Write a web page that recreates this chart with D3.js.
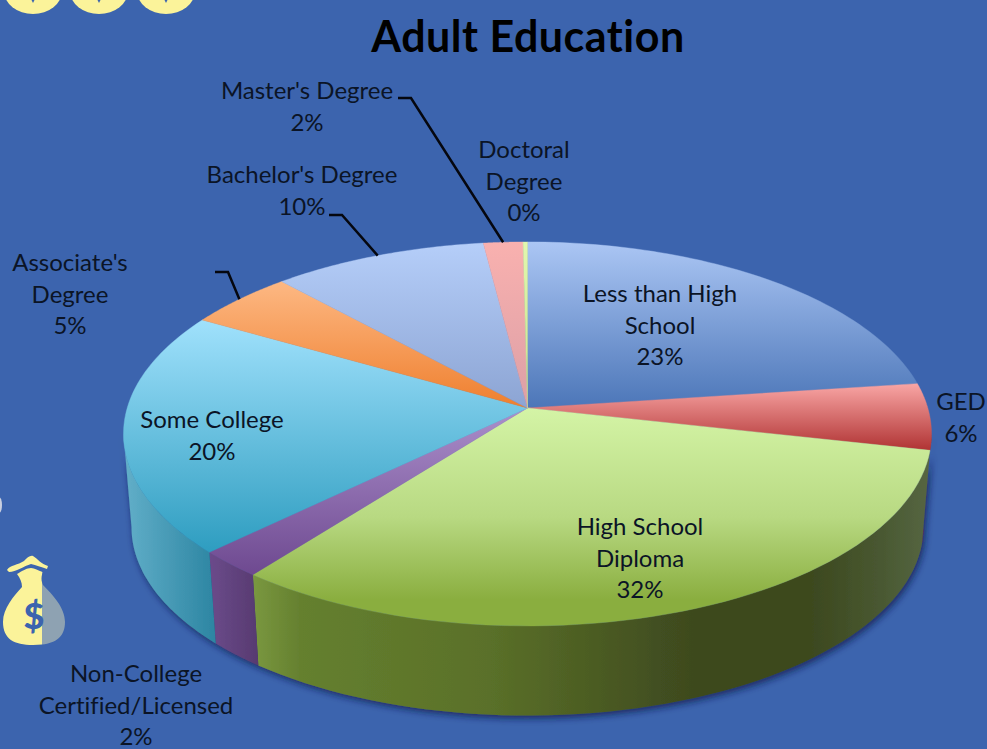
<!DOCTYPE html>
<html><head><meta charset="utf-8">
<script src="https://cdn.jsdelivr.net/npm/d3@7"></script>
<style>
html,body{margin:0;padding:0;background:#3c64ae;overflow:hidden}
text{font-family:Lato,"Open Sans",sans-serif;font-variant-ligatures:none}
</style></head><body>
<svg id="c" width="987" height="749"></svg>
<script>
// ---- data ----
const categories = ["Less than High School","GED","High School Diploma","Non-College Certified/Licensed","Some College","Associate's Degree","Bachelor's Degree","Master's Degree","Doctoral Degree"];
const values = [22.9,5.6,32.0,2.3,20.5,4.9,9.8,1.8,0.2];
const percentLabels = ["23%","6%","32%","2%","20%","5%","10%","2%","0%"];
const labelLines = [["Less than High","School"],["GED"],["High School","Diploma"],["Non-College","Certified/Licensed"],["Some College"],["Associate's","Degree"],["Bachelor's Degree"],["Master's Degree"],["Doctoral","Degree"]];
// ---- style / layout ----
const labelAnchors = [[660,294],[961,402],[640,527],[136,674],[212,420],[70,263],[302,175],[307,91],[524,150]];
const elbows = {5:[[215,272],[228,272]],6:[[329,215],[342,215]],7:[[398,98],[411,98]]};
const topColors = [["#abc6f4","#4c76b8"],["#f9a6a5","#b03333"],["#d4f4a6","#8aae3f"],["#ab8fcb","#6e4990"],["#a0e1fc","#2e9dc0"],["#fdb883","#ef7f2e"],["#b5cef9","#8ca4d3"],["#f9b1af","#dc9fa6"],["#e2f7ae","#c6e48c"]];
const wallStops = {
  1:[[0,"#7a2020"],[1,"#7a2020"]],
  2:[[0,"#7a9840"],[.07,"#65802f"],[.35,"#5a7029"],[.52,"#4a5a22"],[.6,"#424f20"],[.67,"#3c481e"],[.82,"#3c481e"],[.92,"#485730"],[1,"#566642"]],
  3:[[0,"#6b4b8b"],[1,"#573a70"]],
  4:[[0,"#62afc9"],[1,"#2c85a2"]]
};
const cx=527.5, cy=408, A=400.3, B=188.5, K=0.135, depth=94, taper=0.98;

const svg=d3.select("#c");
const defs=svg.append("defs");
const f=defs.append("filter").attr("id","sh").attr("x","-10%").attr("y","-10%").attr("width","120%").attr("height","130%");
f.append("feDropShadow").attr("dx",2).attr("dy",3).attr("stdDeviation",3.5).attr("flood-color","#0c1a48").attr("flood-opacity",.75);

// projection of the tilted disc: angle (clockwise from 12 o'clock) -> screen
function proj(t,s=1,dy=0){
  const ys=-Math.cos(t), w=1-K*ys;
  return [cx+s*A*Math.sin(t)/w, cy+dy+s*B*ys/w];
}
const pie=d3.pie().sort(null).value(d=>d);
const arcs=pie(values);
const line=d3.line();
const samples=(a,b)=>d3.range(0,61).map(i=>a+(b-a)*i/60);

// money bags
const bag=svg.append("g");
const bagFill="#fbf39a";
[33,99,166].forEach(x=>{
  bag.append("ellipse").attr("cx",x).attr("cy",-9).attr("rx",29).attr("ry",23).attr("fill",bagFill);
  bag.append("path").attr("d",`M${x-1.5} 0 L${x+1.5} 0 L${x} 3 Z`).attr("fill","#3c64ae");
});
bag.append("ellipse").attr("cx",-1).attr("cy",505).attr("rx",3).attr("ry",8).attr("fill","#c9cfe0");
const tiePath="M7 570 C10 565 18 565 24 561 C27 558 30 555 33 556 C38 559 41 564 48 566 L47 569 C41 567 36 565 31 564 C24 566 16 572 9 572 Z";
const bagPath="M17 574 C22 571 27 568 31 568 C35 568 39 571 43 572 C41 576 41 581 43 585 C53 595 65 608 65 622 C65 639 53 645 33 645 C14 645 3 639 3 622 C3 608 14 596 22 587 C22 582 20 578 17 574 Z";
defs.append("clipPath").attr("id","bl").append("rect").attr("x",0).attr("y",540).attr("width",42).attr("height",120);
defs.append("clipPath").attr("id","br").append("rect").attr("x",42).attr("y",540).attr("width",40).attr("height",120);
bag.append("path").attr("d",tiePath).attr("fill",bagFill);
bag.append("path").attr("d",bagPath).attr("fill",bagFill).attr("clip-path","url(#bl)");
bag.append("path").attr("d",bagPath).attr("fill","#8ea2b2").attr("clip-path","url(#br)");
bag.append("text").attr("x",34).attr("y",629).attr("text-anchor","middle").attr("font-size",36).attr("font-weight",900).attr("fill","#3c64ae").text("$");

// walls
const frontA=Math.acos(-K), frontB=2*Math.PI-frontA;
const walls=svg.append("g").attr("filter","url(#sh)");
arcs.forEach((d,i)=>{
  const a=Math.max(d.startAngle,frontA), b=Math.min(d.endAngle,frontB);
  if(b<=a||!wallStops[i]) return;
  const tp=samples(a,b).map(t=>proj(t));
  const bt=samples(a,b).reverse().map(t=>proj(t,taper,depth));
  const xs=tp.concat(bt).map(p=>p[0]);
  const id="w"+i, g=defs.append("linearGradient").attr("id",id).attr("gradientUnits","userSpaceOnUse")
    .attr("x1",d3.min(xs)).attr("x2",d3.max(xs)).attr("y1",0).attr("y2",0);
  wallStops[i].forEach(s=>g.append("stop").attr("offset",s[0]).attr("stop-color",s[1]));
  walls.append("path").attr("d",line(tp.concat(bt))+"Z").attr("fill",`url(#${id})`);
});

// top surface
const topG=svg.append("g");
arcs.forEach((d,i)=>{
  const id="t"+i, g=defs.append("linearGradient").attr("id",id).attr("x1",0).attr("x2",0).attr("y1",0).attr("y2",1);
  g.append("stop").attr("offset",0).attr("stop-color",topColors[i][0]);
  if(i===2) g.append("stop").attr("offset",.5).attr("stop-color","#b8d982");
  g.append("stop").attr("offset",i===2?.88:1).attr("stop-color",topColors[i][1]);
  const pts=[[cx,cy]].concat(samples(d.startAngle,d.endAngle).map(t=>proj(t)));
  topG.append("path").attr("d",line(pts)+"Z").attr("fill",`url(#${id})`).attr("stroke",`url(#${id})`).attr("stroke-width",.4);
});

// leader lines
const leaders=svg.append("g").attr("fill","none").attr("stroke","#05070f").attr("stroke-width",2.5);
Object.keys(elbows).forEach(k=>{
  const d=arcs[+k];
  const end=proj((d.startAngle+d.endAngle)/2);
  leaders.append("path").attr("d",line(elbows[k].concat([end])));
});

// title
svg.append("text").attr("x",528).attr("y",52).attr("text-anchor","middle").attr("font-size",43).attr("letter-spacing",.5).attr("font-weight",700).attr("fill","#000").text("Adult Education");

// labels
const lab=svg.append("g").attr("font-size",24).attr("fill","#0b1426").attr("text-anchor","middle");
categories.forEach((c,i)=>{
  const lines=labelLines[i].concat([percentLabels[i]]);
  const [x,y]=labelAnchors[i];
  lines.forEach((l,j)=>lab.append("text").attr("x",x).attr("y",y+8+j*31.5).text(l));
});
</script></body></html>
